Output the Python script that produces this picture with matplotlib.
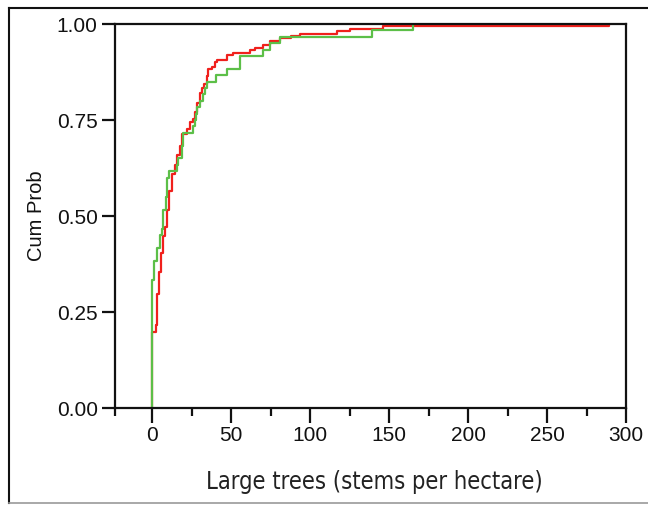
import numpy as np
import matplotlib
matplotlib.use("Agg")
import matplotlib.pyplot as plt
from matplotlib.lines import Line2D

# Observed values (stems per hectare) and how many sites had each value
red_values = [0, 2.3, 3.4, 4.6, 5.7, 7.2, 8.2, 9.7, 11, 12.5, 14.6, 16, 17.7, 19.2,
              22.3, 24, 25.7, 27.2, 28.7, 30, 31.5, 33, 34.6, 35.6, 37.8, 40, 41.3,
              47.2, 51.5, 62, 65.2, 70.4, 74.7, 81, 87.8, 93.7, 117, 125, 146, 289]
red_counts = [32, 3, 13, 9, 8, 7, 4, 7, 8, 7, 4, 4, 4, 5,
              2, 3, 1, 3, 4, 4, 2, 2, 3, 3, 1, 2, 1,
              2, 1, 1, 1, 1, 2, 1, 1, 1, 1, 1, 1, 1]

green_values = [0, 1.5, 3, 5, 6, 7, 8.5, 9.5, 11, 15.6, 16.7, 18.8, 19.8, 25.7,
                27.2, 28, 28.7, 30.4, 32, 33.5, 34.6, 40.5, 47.2, 55.7, 70, 74.7,
                81, 139, 165]
green_counts = [20, 3, 2, 2, 1, 3, 2, 3, 1, 1, 1, 2, 2, 1,
                1, 1, 1, 1, 1, 1, 1, 1, 1, 2, 1, 1,
                1, 1, 1]

x_ticks = [0, 50, 100, 150, 200, 250, 300]
x_minor_ticks = [25, 75, 125, 175, 225, 275]
y_ticks = [0.00, 0.25, 0.50, 0.75, 1.00]
x_label = "Large trees (stems per hectare)"
y_label = "Cum Prob"

red_color = "#f0201c"
green_color = "#5cbf48"
ink = "#111111"

W, H = 648, 505
fig = plt.figure(figsize=(W / 100, H / 100), dpi=100)
ax = fig.add_axes([115 / W, 1 - 408 / H, (626 - 115) / W, (408 - 24) / H])

red = np.repeat(red_values, red_counts)
green = np.repeat(green_values, green_counts)

ax.ecdf(red, color=red_color, lw=1.6, zorder=2)
ax.ecdf(green, color=green_color, lw=1.6, zorder=3)

x_lo = -23.5
ax.set_xlim(x_lo, 300)
ax.set_ylim(0, 1.0)
ax.set_xticks(x_ticks)
ax.set_xticks([x_lo] + x_minor_ticks, minor=True)
ax.set_yticks(y_ticks)
ax.set_yticklabels([f"{v:.2f}" for v in y_ticks])

for s in ax.spines.values():
    s.set_linewidth(1.6)
    s.set_color(ink)
    s.set_zorder(4)

ax.tick_params(axis="x", which="major", direction="out", length=11, width=1.6,
               labelsize=15, colors=ink, pad=2)
ax.tick_params(axis="y", which="major", direction="out", length=9.5, width=1.6,
               labelsize=15, colors=ink, pad=3)
ax.tick_params(axis="x", which="minor", direction="out", length=6, width=1.6,
               colors=ink)
for lab in ax.get_xticklabels() + ax.get_yticklabels():
    lab.set_fontfamily("Liberation Sans")

ax.set_ylabel(y_label, fontsize=14.5, family="Liberation Sans", color=ink)
ax.yaxis.set_label_coords(-0.135, 0.5)
ax.set_xlabel(x_label, fontsize=17, family="DejaVu Sans", fontstretch="condensed",
              color="#222222")
ax.xaxis.set_label_coords(0.507, -0.162)

# figure frame
fig.add_artist(Line2D([9 / W, 9 / W], [2 / H, 1 - 8 / H], color=ink, lw=1.5,
                      transform=fig.transFigure))
fig.add_artist(Line2D([9 / W, 1.0], [1 - 8 / H, 1 - 8 / H], color=ink, lw=1.5,
                      transform=fig.transFigure))
fig.add_artist(Line2D([9 / W, 1.0], [2.5 / H, 2.5 / H], color="#999999", lw=1.2,
                      transform=fig.transFigure))

fig.savefig("out.png", dpi=100)
